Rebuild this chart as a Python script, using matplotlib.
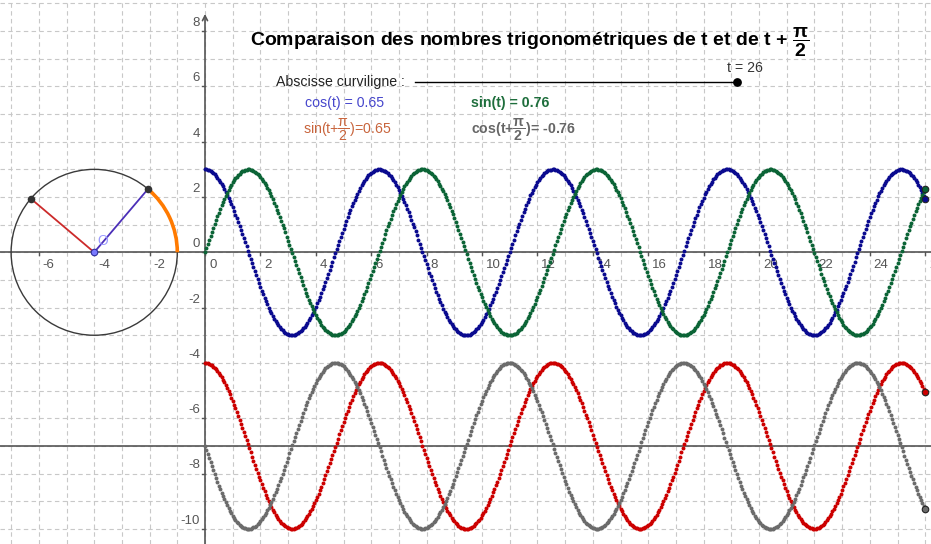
import numpy as np
import matplotlib.pyplot as plt
from matplotlib.patches import Circle, Arc

plt.rcParams['font.family'] = ['Liberation Sans', 'DejaVu Sans']
plt.rcParams['mathtext.fontset'] = 'custom'
plt.rcParams['mathtext.rm'] = 'Liberation Sans'
plt.rcParams['mathtext.it'] = 'Liberation Sans:italic'
plt.rcParams['mathtext.bf'] = 'Liberation Sans:bold'

# slider and sequence settings
t_value = 26
t_step = 0.05
slider_range = (0, 26)
amplitude = 3
lower_offset = -7
circle_center = (-4, 0)

x_ticks = [-6, -4, -2, 0, 2, 4, 6, 8, 10, 12, 14, 16, 18, 20, 22, 24, 26]
y_ticks = [8, 6, 4, 2, 0, -2, -4, -6, -8, -10]

BLUE = '#0a0a8f'
GREEN = '#0b6436'
RED = '#cc0000'
GRAY = '#6b6b6b'
AXIS = '#555555'
LABEL = '#555555'

t = np.arange(0, t_value + t_step / 2, t_step)
cos_t = amplitude * np.cos(t)
sin_t = amplitude * np.sin(t)
sin_shift = lower_offset + amplitude * np.sin(t + np.pi / 2)
cos_shift = lower_offset + amplitude * np.cos(t + np.pi / 2)

fig = plt.figure(figsize=(9.31, 5.44), dpi=100)
ax = fig.add_axes([0, 0, 1, 1])
ax.set_xlim(-205 / 27.7, (931 - 205) / 27.7)
ax.set_ylim(-(544 - 252.3) / 27.65, 252.3 / 27.65)
ax.axis('off')

# dashed unit grid
for gx in range(-7, 27):
    ax.axvline(gx, color='#c8c8c8', lw=0.8, ls=(0, (4, 3)), zorder=0)
for gy in range(-10, 10):
    ax.axhline(gy, color='#c8c8c8', lw=0.8, ls=(0, (4, 3)), zorder=0)

# axes
ax.axhline(0, color=AXIS, lw=1.2, zorder=1)
ax.axhline(lower_offset, color=AXIS, lw=1.2, zorder=1)
ax.annotate('', xy=(0, 8.62), xytext=(0, -11), zorder=1,
            arrowprops=dict(arrowstyle='->,head_length=0.35,head_width=0.18',
                            color=AXIS, lw=1.2, shrinkA=0, shrinkB=0))

for xt in x_ticks:
    ax.plot([xt, xt], [0, -0.1], color=AXIS, lw=1, zorder=1)
    ax.annotate(str(xt), (xt, 0), xytext=(4, -7), textcoords='offset pixels',
                ha='left', va='top', fontsize=9.5, color=LABEL)
for yt in y_ticks:
    ax.plot([-0.1, 0], [yt, yt], color=AXIS, lw=1, zorder=1)
    ax.annotate(str(yt), (0, yt), xytext=(-5, 2), textcoords='offset pixels',
                ha='right', va='bottom', fontsize=9.5, color=LABEL)

# trigonometric circle
cx, cy = circle_center
ax.add_patch(Circle(circle_center, amplitude, fill=False, ec='#3a3a3a', lw=1, zorder=2))
arc_deg = np.degrees(t_value % (2 * np.pi))
ax.add_patch(Arc(circle_center, 2 * amplitude, 2 * amplitude, theta1=0, theta2=arc_deg,
                 color='#ff7a00', lw=2.6, zorder=3))
px, py = cx + amplitude * np.cos(t_value), cy + amplitude * np.sin(t_value)
qx, qy = cx + amplitude * np.cos(t_value + np.pi / 2), cy + amplitude * np.sin(t_value + np.pi / 2)
ax.plot([cx, px], [cy, py], color='#4b2fb8', lw=1.3, zorder=3)
ax.plot([cx, qx], [cy, qy], color='#cc2a2a', lw=1.3, zorder=3)
ax.scatter([px, qx], [py, qy], s=30, color='#333333', zorder=4, linewidths=0)
ax.scatter([cx], [cy], s=22, color='#7a7aff', edgecolors='#3030a0', linewidths=0.8, zorder=4)
ax.text(cx + 0.32, cy + 0.42, 'O', color='#9a9aff', fontsize=10, ha='center', va='center')

# sequences of points
for vals, col in [(cos_t, BLUE), (sin_t, GREEN), (sin_shift, RED), (cos_shift, GRAY)]:
    ax.scatter(t, vals, s=8, color=col, linewidths=0, zorder=5)
    ax.scatter([t[-1]], [vals[-1]], s=22, color=col, edgecolors='#222222',
               linewidths=0.8, zorder=6)

# title
ax.text(1.62, 7.46, r'Comparaison des nombres trigonométriques de t et de t + $\dfrac{\mathbf{\pi}}{\mathbf{2}}$',
        fontsize=14, fontweight='bold', ha='left', va='baseline', color='black')

# slider
ax.text(2.56, 6.16, 'Abscisse curviligne :', fontsize=10.2, color='#222222', ha='left', va='center')
s0, s1 = 7.58, 19.21
slider_x = s0 + (s1 - s0) * (t_value - slider_range[0]) / (slider_range[1] - slider_range[0])
ax.plot([s0, s1], [6.16, 6.16], color='black', lw=1, zorder=3)
ax.scatter([slider_x], [6.16], s=28, color='black', zorder=4)
ax.text(slider_x - 0.35, 6.68, 't = %d' % t_value, fontsize=10.2, color='#333333', ha='left', va='center')

# values
c = np.cos(t_value)
s = np.sin(t_value)
ax.text(3.61, 5.40, 'cos(t) = %.2f' % c, fontsize=10.2, color='#4646cc', ha='left', va='center')
ax.text(9.60, 5.40, 'sin(t) = %.2f' % s, fontsize=10.2, color='#1e6e3c', ha='left', va='center',
        fontweight='bold')
ax.text(3.54, 4.42, r'sin(t+$\dfrac{\mathrm{\pi}}{\mathrm{2}}$)=%.2f' % np.sin(t_value + np.pi / 2),
        fontsize=10.2, color='#c8643c', ha='left', va='center')
ax.text(9.60, 4.42, r'cos(t+$\dfrac{\mathbf{\pi}}{\mathbf{2}}$)= %.2f' % np.cos(t_value + np.pi / 2),
        fontsize=10.2, color='#666666', ha='left', va='center', fontweight='bold')

fig.savefig('out.png', dpi=100)
